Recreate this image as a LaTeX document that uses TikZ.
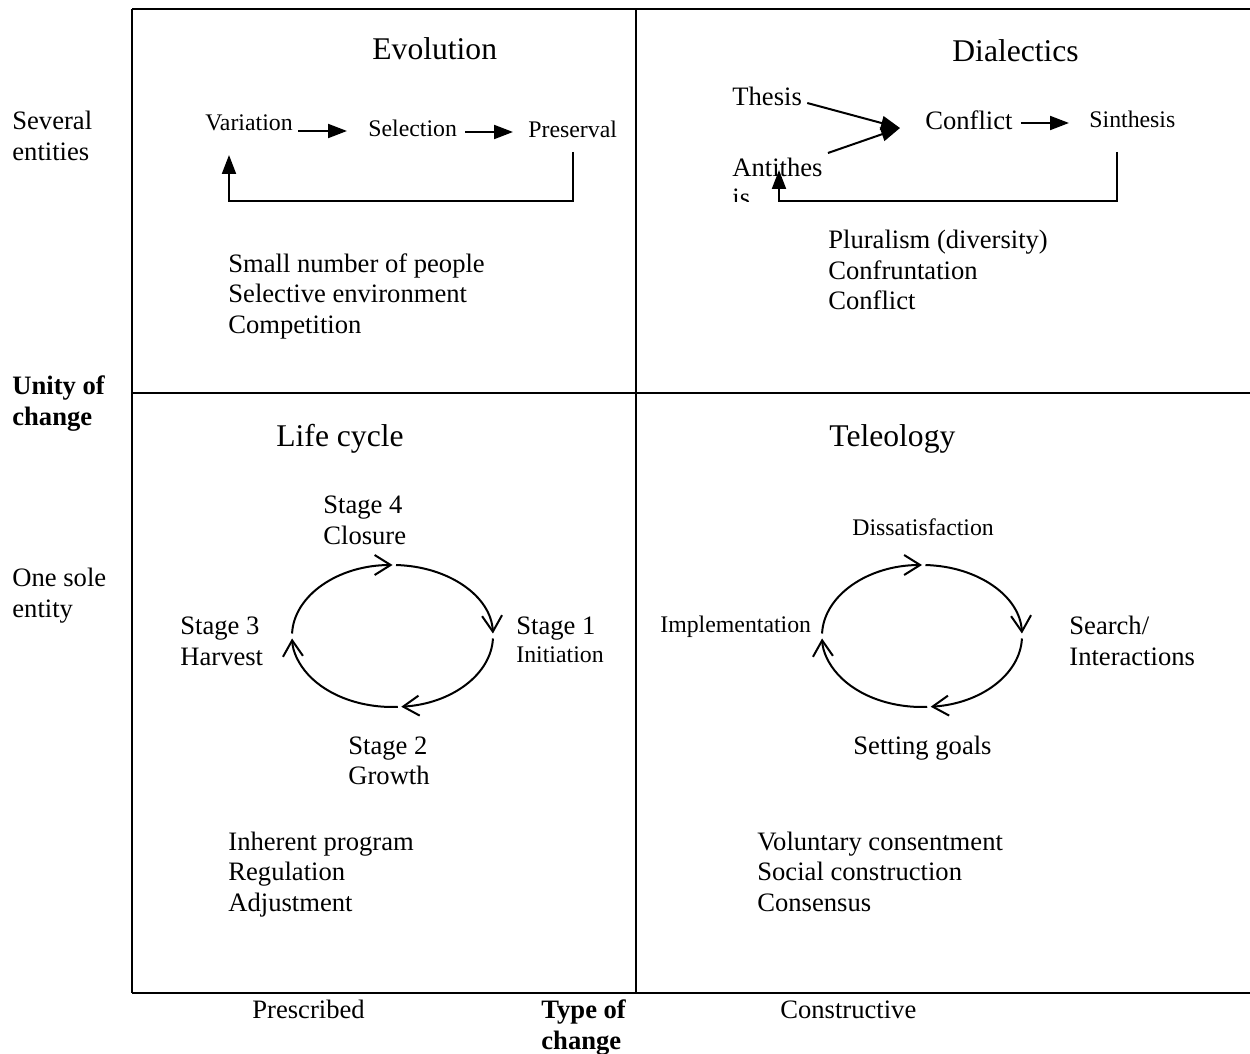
\documentclass[tikz,border=0pt]{standalone}
\usepackage{fontspec}
\setmainfont{Liberation Serif}
\usetikzlibrary{arrows.meta}

\begin{document}
\begin{tikzpicture}[x=0.5pt,y=-0.5pt,
  txt/.style={inner sep=0pt, anchor=base west, font=\fontsize{13.3}{15.5}\selectfont},
  smalltxt/.style={txt, font=\fontsize{11.9}{14}\selectfont},
  titletxt/.style={txt, font=\fontsize{15.8}{18}\selectfont},
  axislabel/.style={txt, font=\fontsize{13.3}{15.5}\selectfont\bfseries},
  framerule/.style={line width=1pt},
  arr/.style={line width=1pt, -{Triangle[length=9.5pt,width=7pt]}},
  cyc/.style={line width=1pt, -{Straight Barb[length=8pt,width=10pt]}},
]
\useasboundingbox (0,0) rectangle (1250,1054);

% quadrant frame
\draw[framerule] (132,9) -- (1250,9);
\draw[framerule] (132,9) -- (132,993);
\draw[framerule] (636,9) -- (636,993);
\draw[framerule] (132,393) -- (1250,393);
\draw[framerule] (132,993) -- (1250,993);

% axis labels
\node[txt] (sev1) at (12,130) {Several};
\node[txt] (sev2) at (12,161) {entities};
\node[axislabel] (unity1) at (12,394) {Unity of};
\node[axislabel] (unity2) at (12,425) {change};
\node[txt] (one1) at (12,586) {One sole};
\node[txt] (one2) at (12,617) {entity};
\node[txt] (presc) at (252,1018) {Prescribed};
\node[axislabel] (type1) at (541,1018) {Type of};
\node[axislabel] (type2) at (541,1049) {change};
\node[txt] (constr) at (780,1018) {Constructive};

% Evolution
\node[titletxt] (evo) at (372,60) {Evolution};
\node[smalltxt] (var) at (205,131) {Variation};
\node[smalltxt] (sel) at (368,137) {Selection};
\node[smalltxt] (pres) at (528,138) {Preserval};
\draw[arr, shorten <=2.5pt, shorten >=10.5pt] (var.base east) -- (var.base east -| sel.west);
\draw[arr, shorten <=4pt, shorten >=7.5pt] ([yshift=2.5pt]sel.base east) -- ([yshift=2.5pt]sel.base east -| pres.west);
\coordinate (evcorner) at (229,201);
\draw[arr] ([yshift=-7pt]pres.base) |- (evcorner) -- ([xshift=12pt,yshift=-12pt]var.base west);
\node[txt] (evo1) at (228,272) {Small number of people};
\node[txt] (evo2) at (228,303) {Selective environment};
\node[txt] (evo3) at (228,334) {Competition};

% Dialectics
\node[titletxt] (dia) at (952,62) {Dialectics};
\node[txt] (thesis) at (732,106) {Thesis};
\node[txt] (conf) at (925,130) {Conflict};
\node[smalltxt] (sinth) at (1089,128) {Sinthesis};
\node[txt] (anti) at (732,177) {Antithes};
\begin{scope}
  \clip (700,185) rectangle (860,202);
  \node[txt] (anti2) at (732,207) {is};
\end{scope}
\coordinate (dmeet) at (900,128);
\draw[arr] ([xshift=2.5pt,yshift=1.5pt]thesis.base east) -- (dmeet);
\draw[arr] ([xshift=2.5pt,yshift=12pt]anti.base east) -- (dmeet);
\draw[arr, shorten <=4pt, shorten >=10pt] ([yshift=3.5pt]conf.base east) -- ([yshift=3.5pt]conf.base east -| sinth.west);
\coordinate (dicorner) at (779,201);
\draw[arr] ([xshift=-7.5pt,yshift=-12pt]sinth.base) |- (dicorner) -- ([xshift=23.5pt,yshift=3.5pt]anti.base west);
\node[txt] (dia1) at (828,249) {Pluralism (diversity)};
\node[txt] (dia2) at (828,279) {Confruntation};
\node[txt] (dia3) at (828,310) {Conflict};

% Life cycle
\node[titletxt] (life) at (276,446) {Life cycle};
\node[txt] (st4a) at (323,513) {Stage 4};
\node[txt] (st4b) at (323,545) {Closure};
\node[txt] (st1a) at (516,634) {Stage 1};
\node[smalltxt] (st1b) at (516,662) {Initiation};
\node[txt] (st3a) at (180,634) {Stage 3};
\node[txt] (st3b) at (180,665) {Harvest};
\node[txt] (st2a) at (348,754) {Stage 2};
\node[txt] (st2b) at (348,784) {Growth};
\coordinate (lc) at (392.5,636);
\draw[cyc] ([shift={(272:100.5 and 71)}]lc) arc[start angle=272, end angle=358, x radius=100.5, y radius=71];
\draw[cyc] ([shift={(2:100.5 and 71)}]lc) arc[start angle=2, end angle=85, x radius=100.5, y radius=71];
\draw[cyc] ([shift={(87:100.5 and 71)}]lc) arc[start angle=87, end angle=178, x radius=100.5, y radius=71];
\draw[cyc] ([shift={(182:100.5 and 71)}]lc) arc[start angle=182, end angle=270, x radius=100.5, y radius=71];
\node[txt] (life1) at (228,850) {Inherent program};
\node[txt] (life2) at (228,880) {Regulation};
\node[txt] (life3) at (228,911) {Adjustment};

% Teleology
\node[titletxt] (tele) at (829,446) {Teleology};
\node[smalltxt] (diss) at (852,535) {Dissatisfaction};
\node[smalltxt] (impl) at (660,632) {Implementation};
\node[txt] (search1) at (1069,634) {Search/};
\node[txt] (search2) at (1069,665) {Interactions};
\node[txt] (goals) at (853,754) {Setting goals};
\coordinate (tc) at (922,636);
\draw[cyc] ([shift={(272:100 and 71)}]tc) arc[start angle=272, end angle=358, x radius=100, y radius=71];
\draw[cyc] ([shift={(2:100 and 71)}]tc) arc[start angle=2, end angle=85, x radius=100, y radius=71];
\draw[cyc] ([shift={(87:100 and 71)}]tc) arc[start angle=87, end angle=178, x radius=100, y radius=71];
\draw[cyc] ([shift={(182:100 and 71)}]tc) arc[start angle=182, end angle=270, x radius=100, y radius=71];
\node[txt] (tele1) at (757,850) {Voluntary consentment};
\node[txt] (tele2) at (757,880) {Social construction};
\node[txt] (tele3) at (757,911) {Consensus};

\end{tikzpicture}
\end{document}
